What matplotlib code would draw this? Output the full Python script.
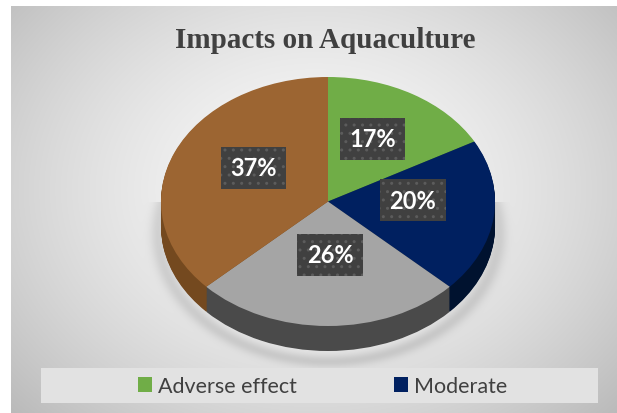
import matplotlib.pyplot as plt
import numpy as np

# pie data, clockwise from 12 o'clock
categories = ['Adverse effect', 'Moderate', 'Category 3', 'Category 4']
values = [17, 20, 26, 37]
top_colors = ['#70AD47', '#002060', '#A5A5A5', '#9C6532']
side_colors = ['#4E7A31', '#00122F', '#4A4A4A', '#74491F']
legend_count = 2

W, H = 617, 414
cx, cy = 328, 202.5      # pie centre in pixels (from top)
a, b = 167, 124.5        # ellipse radii in pixels
depth = 25

fig = plt.figure(figsize=(W / 100, H / 100), dpi=100)

# background: white margin + radial grey gradient
bg = fig.add_axes([0, 0, 1, 1])
bg.set_axis_off()
yy, xx = np.mgrid[0:H, 0:W]
r = np.sqrt(((xx - 315) / 330.0) ** 2 + ((yy - 190) / 260.0) ** 2)
shade = 0.975 - 0.17 * np.clip(r, 0, 1.3) ** 1.6
# soft shadow under the pie
d = np.sqrt(((xx - cx) / (a + 3)) ** 2 + ((yy - cy - depth - 6) / (b + 4)) ** 2)
shade -= 0.10 * np.exp(-((d - 1.0) / 0.05) ** 2) * (d > 0.9) * (yy > cy)
img = np.dstack([shade] * 3)
img[:7, :, :] = 1.0
img[:, :11, :] = 1.0
img[369:404, 41:598, :] = 0.89
bg.imshow(np.clip(img, 0, 1), extent=(0, W, H, 0), aspect='auto', interpolation='bilinear')
bg.set_xlim(0, W)
bg.set_ylim(H, 0)

ax = fig.add_axes([0, 0, 1, 1])
ax.patch.set_alpha(0)

# extruded side: stack of darker pies shifted downwards
n_layers = 30
for k in range(n_layers, 0, -1):
    off = depth / b * k / n_layers
    ax.pie(values, colors=side_colors, startangle=90, counterclock=False,
           center=(0, -off), radius=1, wedgeprops=dict(linewidth=0))

wedges, texts, autotexts = ax.pie(
    values, colors=top_colors, startangle=90, counterclock=False,
    radius=1, autopct='%1.0f%%', pctdistance=0.5,
    wedgeprops=dict(linewidth=0))

for t in autotexts:
    x, y = t.get_position()
    t.set_position((x + 2 / a, y + 9 / b))   # perspective: labels sit a bit higher
    t.set_color('white')
    t.set_fontsize(17)
    t.set_fontweight('bold')
    t.set_family('Lato')
    t.set_bbox(dict(boxstyle='square,pad=0.4', facecolor='#404040',
                    edgecolor='#5c5c5c', linewidth=0, hatch='..'))

ax.set_aspect('auto')
ax.set_xlim(-cx / a, (W - cx) / a)
ax.set_ylim(-(H - cy) / b, cy / b)
ax.set_axis_off()

fig.text(325 / W, 1 - 40 / H, 'Impacts on Aquaculture', ha='center', va='center',
         fontsize=21, fontweight='bold', family='Liberation Serif', color='#404040')

fig.legend(wedges[:legend_count], categories[:legend_count], loc='center',
           bbox_to_anchor=(322.5 / W, 1 - 387 / H), ncol=2, frameon=False,
           prop=dict(family='Lato', size=15.5), labelcolor='#404040',
           handlelength=0.65, handleheight=0.65, handletextpad=0.28, columnspacing=4.5)

fig.savefig('out.png', dpi=100)
